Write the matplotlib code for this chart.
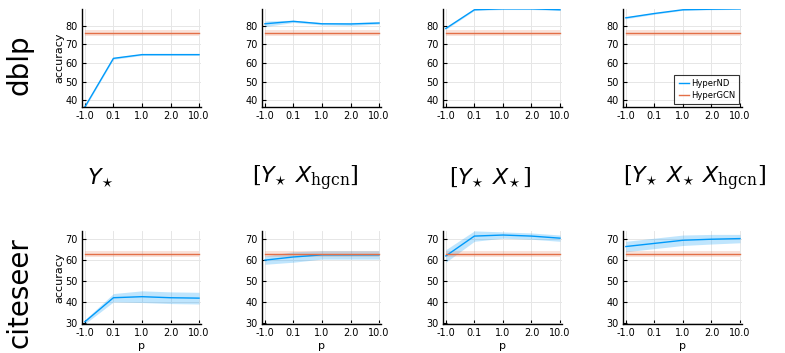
import numpy as np
import matplotlib.pyplot as plt

plt.rcParams['mathtext.fontset'] = 'custom'
plt.rcParams['mathtext.rm'] = 'DejaVu Serif'
plt.rcParams['mathtext.it'] = 'DejaVu Sans:italic'

# data
p_labels = ["-1.0", "0.1", "1.0", "2.0", "10.0"]
titles = [r"$Y_{\!\star}$", r"$[Y_{\!\star}\; X_{\mathrm{hgcn}}]$",
          r"$[Y_{\!\star}\; X_{\!\star}]$", r"$[Y_{\!\star}\; X_{\!\star}\; X_{\mathrm{hgcn}}]$"]
datasets = ["dblp", "citeseer"]

hypergcn_mean = {"dblp": 76.0, "citeseer": 63.0}
hypergcn_std = {"dblp": 1.5, "citeseer": 1.5}

dblp_mean = [
    [36.5, 62.5, 64.5, 64.5, 64.5],
    [81.0, 82.3, 81.0, 80.9, 81.4],
    [78.5, 88.5, 89.0, 89.0, 88.5],
    [84.2, 86.5, 88.5, 88.8, 89.0],
]
dblp_std = [
    [0.5, 0.5, 0.4, 0.4, 0.4],
    [1.5, 0.6, 0.6, 0.8, 0.6],
    [0.5, 0.4, 0.4, 0.4, 0.4],
    [0.5, 0.4, 0.3, 0.3, 0.3],
]
citeseer_mean = [
    [30.5, 42.0, 42.5, 42.0, 41.8],
    [60.0, 61.5, 62.5, 62.5, 62.5],
    [62.0, 71.5, 72.0, 71.5, 70.5],
    [66.5, 68.0, 69.5, 70.0, 70.3],
]
citeseer_std = [
    [1.0, 2.0, 2.8, 2.8, 2.8],
    [2.0, 2.5, 2.0, 2.0, 2.0],
    [3.0, 2.5, 1.5, 1.5, 1.5],
    [2.5, 2.5, 2.5, 2.3, 2.0],
]
means = {"dblp": dblp_mean, "citeseer": citeseer_mean}
stds = {"dblp": dblp_std, "citeseer": citeseer_std}
ylims = {"dblp": (36.5, 89), "citeseer": (29.4, 74)}
yticks = {"dblp": [40, 50, 60, 70, 80], "citeseer": [30, 40, 50, 60, 70]}

blue = "#009AFA"
orange = "#E36F47"

fig = plt.figure(figsize=(7.85, 3.53), dpi=100)
lefts = [0.1045, 0.3338, 0.5643, 0.7936]
rows = {"dblp": (0.697, 0.278), "citeseer": (0.082, 0.264)}

x = np.arange(1, len(p_labels) + 1)
for ds in datasets:
    bottom, height = rows[ds]
    for j in range(4):
        ax = fig.add_axes([lefts[j], bottom, 0.1516, height])
        m = np.array(means[ds][j])
        s = np.array(stds[ds][j])
        ax.fill_between(x, m - s, m + s, color=blue, alpha=0.25, lw=0)
        ax.plot(x, m, color=blue, lw=1.0, label="HyperND")
        hm, hs = hypergcn_mean[ds], hypergcn_std[ds]
        ax.fill_between(x, hm - hs, hm + hs, color=orange, alpha=0.2, lw=0)
        ax.plot(x, [hm] * len(x), color=orange, lw=1.0, label="HyperGCN")
        ax.set_xlim(0.9, 5.07)
        ax.set_ylim(*ylims[ds])
        ax.set_xticks(x)
        ax.set_xticklabels(p_labels)
        ax.set_yticks(yticks[ds])
        ax.tick_params(labelsize=7, direction="in", length=3, width=0.8, pad=3)
        ax.grid(True, color="#e6e6e6", lw=0.7)
        ax.set_axisbelow(True)
        for sp in ["top", "right"]:
            ax.spines[sp].set_visible(False)
        for sp in ["left", "bottom"]:
            ax.spines[sp].set_linewidth(1.0)
        if j == 0:
            ax.set_ylabel("accuracy", fontsize=8, labelpad=1)
        if ds == "citeseer":
            ax.set_xlabel("p", fontsize=8, labelpad=2)
        if ds == "dblp" and j == 3:
            leg = ax.legend(loc="lower right", fontsize=6, frameon=True,
                            fancybox=False, edgecolor="black", handlelength=1.2,
                            borderpad=0.5, labelspacing=0.4, handletextpad=0.3,
                            borderaxespad=0.3)
            leg.get_frame().set_linewidth(0.8)

# row labels
fig.text(0.025, 0.816, "dblp", rotation=90, fontsize=20, ha="center", va="center")
fig.text(0.025, 0.17, "citeseer", rotation=90, fontsize=20, ha="center", va="center")

# column titles
title_x = [100, 305, 490, 695]
for tx, t in zip(title_x, titles):
    fig.text(tx / 785, 1 - 178 / 353, t, fontsize=16, ha="center", va="center")

fig.savefig("out.png", dpi=100)
